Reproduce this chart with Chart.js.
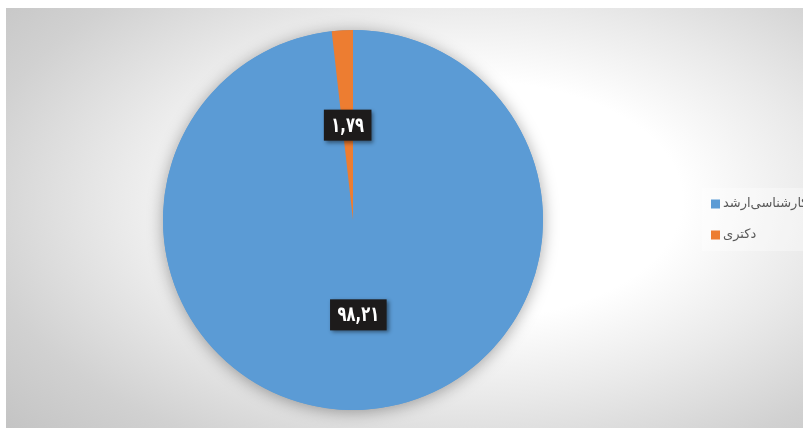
<!DOCTYPE html>
<html>
<head>
<meta charset="utf-8">
<script src="https://cdn.jsdelivr.net/npm/chart.js@4.4.1/dist/chart.umd.min.js"></script>
<style>
  html, body { margin: 0; padding: 0; background: #ffffff; overflow: hidden; }
  #wrap { position: relative; width: 803px; height: 428px; }
</style>
</head>
<body>
<div id="wrap"><canvas id="c" width="803" height="428"></canvas></div>
<script>
// ---- data ----
const categories = ['کارشناسی‌ارشد', 'دکتری'];
const seriesValues = [98.21, 1.79];
const seriesColors = ['#5b9bd5', '#ed7d31'];

const persianDigits = ['۰','۱','۲','۳','۴','۵','۶','۷','۸','۹'];
function toPersian(v) {
  return v.toFixed(2).replace('.', ',').replace(/[0-9]/g, d => persianDigits[+d]);
}

const backgroundPlugin = {
  id: 'bg',
  beforeDraw(chart) {
    const ctx = chart.ctx;
    const W = chart.width, H = chart.height;
    ctx.save();
    ctx.fillStyle = '#ffffff';
    ctx.fillRect(0, 0, W, H);
    const cx = 470, cy = 200, rx = 500, ry = 280;
    ctx.beginPath();
    ctx.rect(6, 8, W - 6, H - 8);
    ctx.clip();
    ctx.translate(cx, cy);
    ctx.scale(1, ry / rx);
    const g = ctx.createRadialGradient(0, 0, 0, 0, 0, rx * 1.25);
    g.addColorStop(0, '#ffffff');
    g.addColorStop(0.34, '#ffffff');
    g.addColorStop(0.56, '#eaeaea');
    g.addColorStop(0.8, '#d1d1d1');
    g.addColorStop(1, '#c3c3c3');
    ctx.fillStyle = g;
    ctx.fillRect(-cx - 10, -cy * rx / ry - 10, W + 40, (H + 40) * rx / ry);
    ctx.restore();

    ctx.save();
    ctx.fillStyle = 'rgba(255,255,255,0.35)';
    ctx.fillRect(702, 188, W - 702, 63);
    ctx.restore();
  }
};

const shadowPlugin = {
  id: 'pieShadow',
  beforeDatasetsDraw(chart) {
    const arc = chart.getDatasetMeta(0).data[0];
    if (!arc) return;
    const ctx = chart.ctx;
    ctx.save();
    ctx.shadowColor = 'rgba(0,0,0,0.35)';
    ctx.shadowBlur = 16;
    ctx.shadowOffsetX = 0;
    ctx.shadowOffsetY = 2;
    ctx.fillStyle = seriesColors[0];
    ctx.beginPath();
    ctx.arc(arc.x, arc.y, arc.outerRadius, 0, Math.PI * 2);
    ctx.fill();
    ctx.restore();
  }
};

const labelPlugin = {
  id: 'valueLabels',
  afterDatasetsDraw(chart) {
    const ctx = chart.ctx;
    const meta = chart.getDatasetMeta(0);
    const sx = 0.78;
    ctx.save();
    ctx.font = 'bold 21px "DejaVu Sans Condensed", "DejaVu Sans", sans-serif';
    ctx.textAlign = 'center';
    ctx.textBaseline = 'middle';
    meta.data.forEach((arc, i) => {
      const p = arc.tooltipPosition();
      const txt = toPersian(seriesValues[i]);
      const w = ctx.measureText(txt).width * sx + 15;
      const h = 31;
      ctx.save();
      ctx.shadowColor = 'rgba(0,0,0,0.45)';
      ctx.shadowBlur = 4;
      ctx.shadowOffsetX = 2;
      ctx.shadowOffsetY = 2;
      ctx.fillStyle = '#1d1b1b';
      ctx.fillRect(p.x - w / 2, p.y - h / 2, w, h);
      ctx.restore();
      ctx.save();
      ctx.translate(p.x, p.y + 1);
      ctx.scale(sx, 1);
      ctx.fillStyle = '#ffffff';
      ctx.fillText(txt, 0, 0);
      ctx.restore();
    });
    ctx.restore();
  }
};

const legendPlugin = {
  id: 'customLegend',
  afterDraw(chart) {
    const ctx = chart.ctx;
    ctx.save();
    ctx.font = '13px "DejaVu Sans", sans-serif';
    ctx.textBaseline = 'middle';
    const x0 = 711, ys = [204, 235];
    categories.forEach((c, i) => {
      ctx.fillStyle = seriesColors[i];
      ctx.fillRect(x0, ys[i] - 4.5, 9, 9);
      ctx.fillStyle = '#595959';
      ctx.direction = 'rtl';
      ctx.textAlign = 'right';
      const tw = ctx.measureText(c).width;
      ctx.fillText(c, x0 + 12 + tw, ys[i]);
    });
    ctx.restore();
  }
};

new Chart(document.getElementById('c'), {
  type: 'pie',
  data: {
    labels: categories,
    datasets: [{
      data: seriesValues,
      backgroundColor: seriesColors,
      borderWidth: 0,
      hoverOffset: 0
    }]
  },
  options: {
    responsive: false,
    animation: false,
    events: [],
    layout: { padding: { top: 30, bottom: 18, left: 163, right: 260 } },
    plugins: {
      legend: { display: false },
      tooltip: { enabled: false }
    }
  },
  plugins: [backgroundPlugin, shadowPlugin, labelPlugin, legendPlugin]
});
</script>
</body>
</html>
